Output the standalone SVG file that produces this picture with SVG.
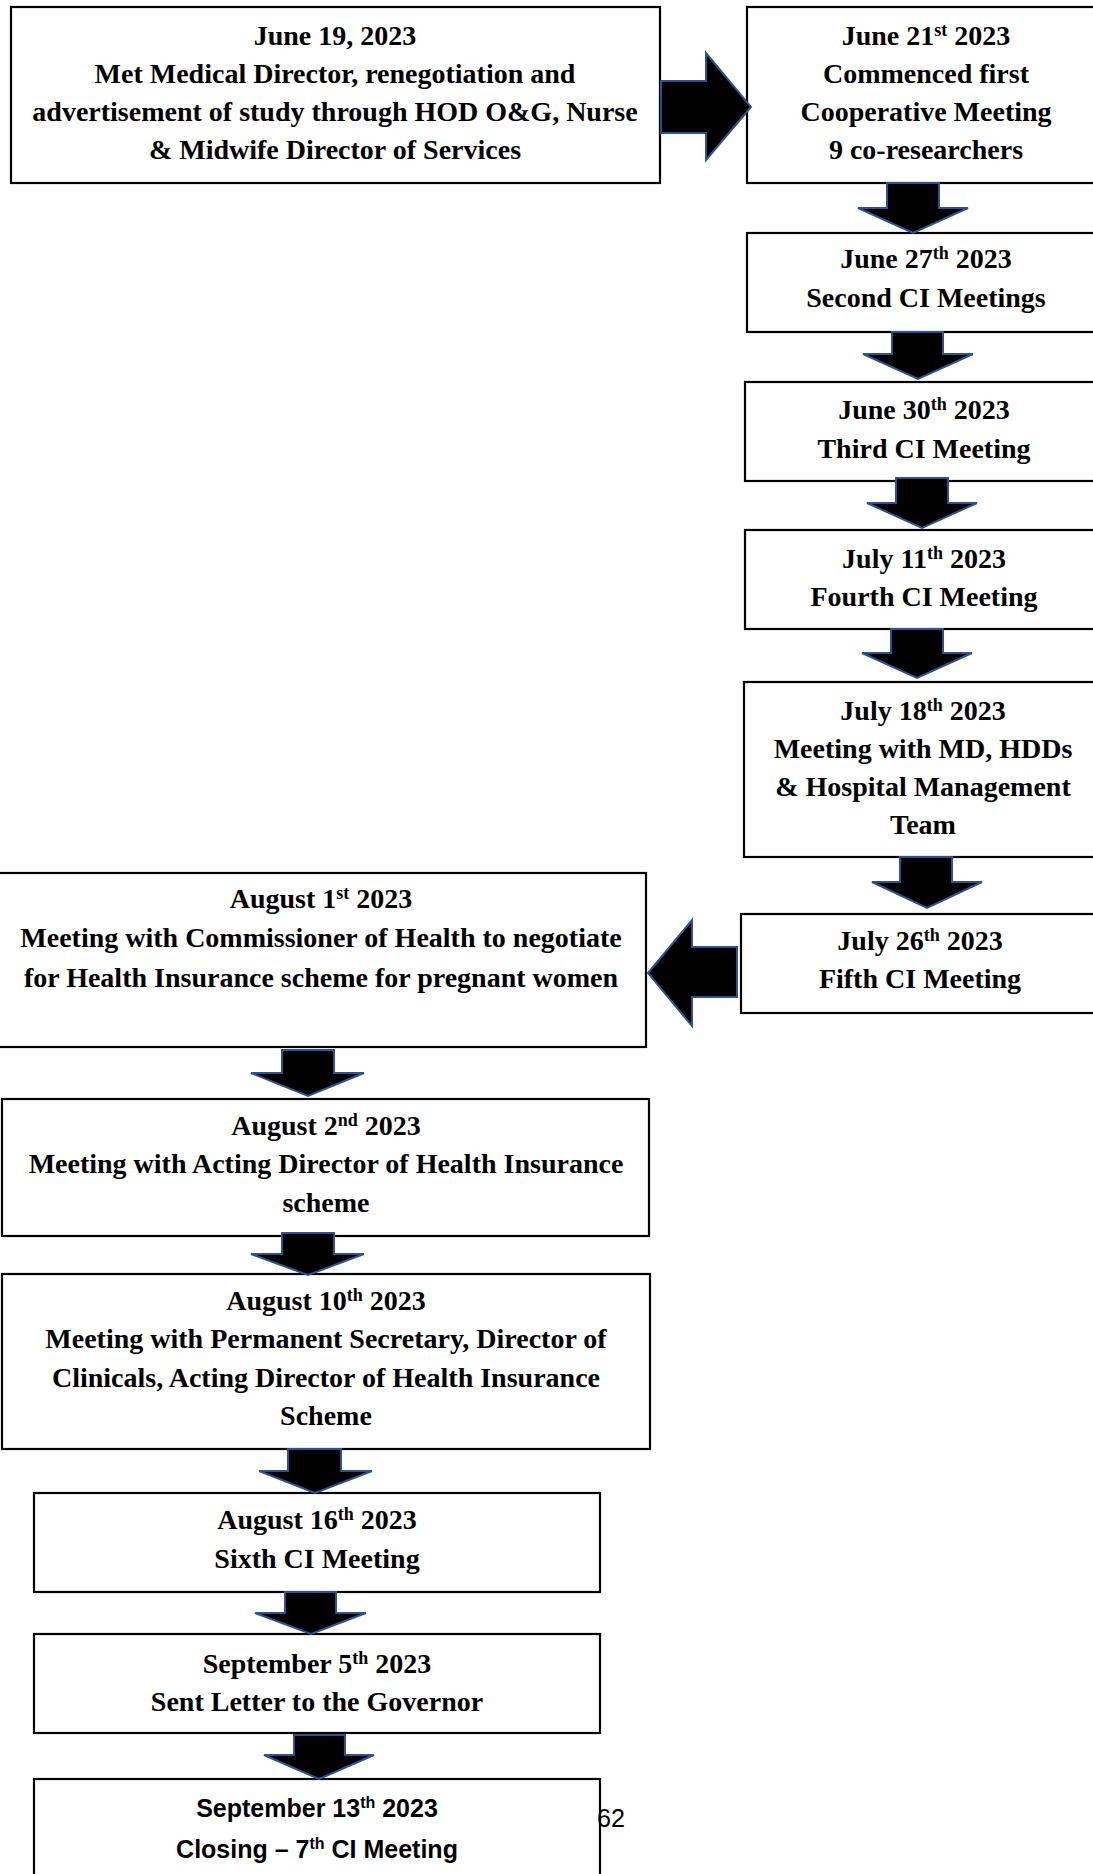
<svg xmlns="http://www.w3.org/2000/svg" width="1093" height="1874" viewBox="0 0 1093 1874">
<style>
.box{fill:#fff;stroke:#000;stroke-width:2.2}
.t{font-family:"Liberation Serif","Times New Roman",serif;font-weight:bold;font-size:28px;fill:#000;text-anchor:middle}
.s{font-family:"Liberation Sans",Arial,sans-serif;font-weight:bold;font-size:25px;fill:#000;text-anchor:middle}
.sup{font-size:18px}
.arr{fill:#000;stroke:#2F528F;stroke-width:2;stroke-linejoin:miter}
</style>
<rect width="1093" height="1874" fill="#fff"/>
<g id="n1"><rect class="box" x="11" y="7" width="649" height="176"/>
<text class="t" x="335" y="45">June 19, 2023</text>
<text class="t" x="335" y="83">Met Medical Director, renegotiation and</text>
<text class="t" x="335" y="121">advertisement of study through HOD O&amp;G, Nurse</text>
<text class="t" x="335" y="159">&amp; Midwife Director of Services</text></g>
<g id="n2"><rect class="box" x="747" y="7" width="360" height="176"/>
<text class="t" x="926" y="45">June 21<tspan class="sup" dy="-9">st</tspan><tspan dy="9"> 2023</tspan></text>
<text class="t" x="926" y="83">Commenced first</text>
<text class="t" x="926" y="121">Cooperative Meeting</text>
<text class="t" x="926" y="159">9 co-researchers</text></g>
<g id="n3"><rect class="box" x="747" y="233" width="360" height="99"/>
<text class="t" x="926" y="268">June 27<tspan class="sup" dy="-9">th</tspan><tspan dy="9"> 2023</tspan></text>
<text class="t" x="926" y="307">Second CI Meetings</text></g>
<g id="n4"><rect class="box" x="745" y="382" width="362" height="99"/>
<text class="t" x="924" y="419">June 30<tspan class="sup" dy="-9">th</tspan><tspan dy="9"> 2023</tspan></text>
<text class="t" x="924" y="458">Third CI Meeting</text></g>
<g id="n5"><rect class="box" x="745" y="530" width="362" height="99"/>
<text class="t" x="924" y="568">July 11<tspan class="sup" dy="-9">th</tspan><tspan dy="9"> 2023</tspan></text>
<text class="t" x="924" y="606">Fourth CI Meeting</text></g>
<g id="n6"><rect class="box" x="744" y="682" width="363" height="175"/>
<text class="t" x="923" y="720">July 18<tspan class="sup" dy="-9">th</tspan><tspan dy="9"> 2023</tspan></text>
<text class="t" x="923" y="758">Meeting with MD, HDDs</text>
<text class="t" x="923" y="796">&amp; Hospital Management</text>
<text class="t" x="923" y="834">Team</text></g>
<g id="n7"><rect class="box" x="741" y="914" width="366" height="99"/>
<text class="t" x="920" y="950">July 26<tspan class="sup" dy="-9">th</tspan><tspan dy="9"> 2023</tspan></text>
<text class="t" x="920" y="988">Fifth CI Meeting</text></g>
<g id="n8"><rect class="box" x="-4" y="873" width="650" height="174"/>
<text class="t" x="321" y="908">August 1<tspan class="sup" dy="-9">st</tspan><tspan dy="9"> 2023</tspan></text>
<text class="t" x="321" y="947">Meeting with Commissioner of Health to negotiate</text>
<text class="t" x="321" y="987">for Health Insurance scheme for pregnant women</text></g>
<g id="n9"><rect class="box" x="2" y="1099" width="647" height="137"/>
<text class="t" x="326" y="1135">August 2<tspan class="sup" dy="-9">nd</tspan><tspan dy="9"> 2023</tspan></text>
<text class="t" x="326" y="1173">Meeting with Acting Director of Health Insurance</text>
<text class="t" x="326" y="1212">scheme</text></g>
<g id="n10"><rect class="box" x="2" y="1274" width="648" height="175"/>
<text class="t" x="326" y="1310">August 10<tspan class="sup" dy="-9">th</tspan><tspan dy="9"> 2023</tspan></text>
<text class="t" x="326" y="1348">Meeting with Permanent Secretary, Director of</text>
<text class="t" x="326" y="1387">Clinicals, Acting Director of Health Insurance</text>
<text class="t" x="326" y="1425">Scheme</text></g>
<g id="n11"><rect class="box" x="34" y="1493" width="566" height="99"/>
<text class="t" x="317" y="1529">August 16<tspan class="sup" dy="-9">th</tspan><tspan dy="9"> 2023</tspan></text>
<text class="t" x="317" y="1568">Sixth CI Meeting</text></g>
<g id="n12"><rect class="box" x="34" y="1634" width="566" height="99"/>
<text class="t" x="317" y="1673">September 5<tspan class="sup" dy="-9">th</tspan><tspan dy="9"> 2023</tspan></text>
<text class="t" x="317" y="1711">Sent Letter to the Governor</text></g>
<g id="n13"><rect class="box" x="34" y="1779" width="566" height="130"/>
<text class="s" x="317" y="1817">September 13<tspan font-size="16" dy="-9">th</tspan><tspan dy="9"> 2023</tspan></text>
<text class="s" x="317" y="1858">Closing – 7<tspan font-size="16" dy="-9">th</tspan><tspan dy="9"> CI Meeting</tspan></text></g>
<text id="pageno" x="597" y="1827" font-family="'Liberation Sans',Arial,sans-serif" font-size="26" textLength="28" lengthAdjust="spacingAndGlyphs" fill="#000">62</text>
<g id="connectors">
<polygon class="arr" points="661,81 706,81 706,53 751,107 706,160 706,133 661,133"/>
<polygon class="arr" points="887,183 939,183 939,208 968,208 913,233 858,208 887,208"/>
<polygon class="arr" points="892,332 943,332 943,354 973,354 918,379 863,354 892,354"/>
<polygon class="arr" points="896,478 948,478 948,503 977,503 922,528 867,503 896,503"/>
<polygon class="arr" points="891,629 943,629 943,653 972,653 917,678 862,653 891,653"/>
<polygon class="arr" points="900,857 952,857 952,882 982,882 927,908 872,882 900,882"/>
<polygon class="arr" points="737,947 692,947 692,920 648,973 692,1026 692,997 737,997"/>
<polygon class="arr" points="282,1050 334,1050 334,1073 364,1073 308,1096 251,1073 282,1073"/>
<polygon class="arr" points="282,1233 334,1233 334,1254 364,1254 308,1275 251,1254 282,1254"/>
<polygon class="arr" points="288,1449 341,1449 341,1471 372,1471 315,1493 259,1471 288,1471"/>
<polygon class="arr" points="285,1592 336,1592 336,1613 366,1613 311,1634 255,1613 285,1613"/>
<polygon class="arr" points="294,1735 345,1735 345,1755 374,1755 319,1779 264,1755 294,1755"/>
</g>
</svg>
